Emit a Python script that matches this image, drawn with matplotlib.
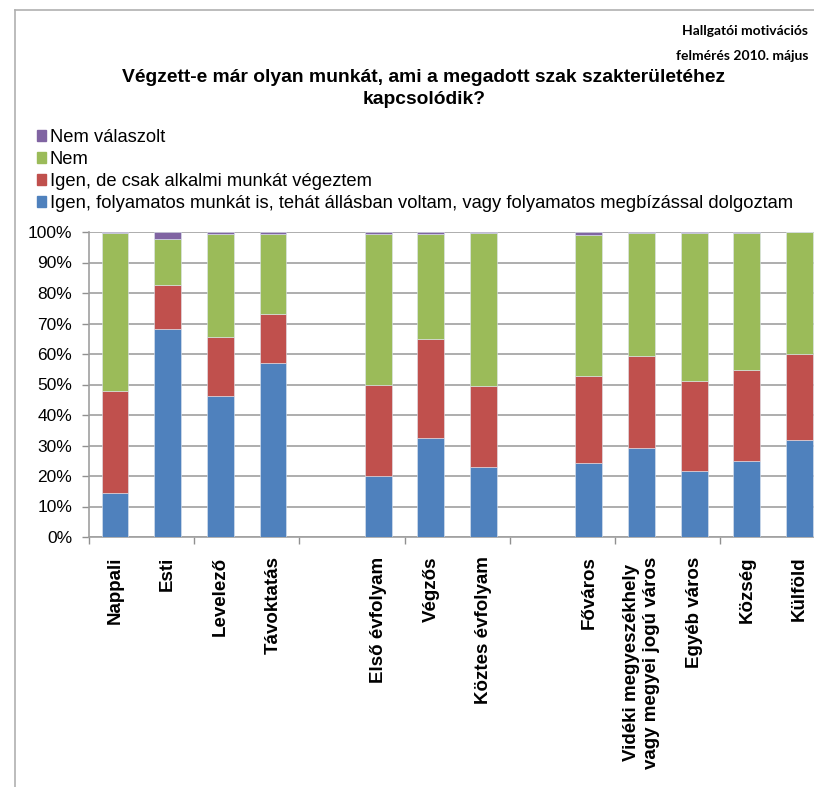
import matplotlib.pyplot as plt
from matplotlib.patches import Patch
from matplotlib.lines import Line2D
from matplotlib import rcParams

rcParams['font.family'] = ['Liberation Sans', 'DejaVu Sans']

# categories (with gaps between the three groups)
categories = ['Nappali', 'Esti', 'Levelező', 'Távoktatás',
              'Első évfolyam', 'Végzős', 'Köztes évfolyam',
              'Főváros', 'Vidéki megyeszékhely\nvagy megyei jogú város', 'Egyéb város', 'Község', 'Külföld']
positions = [0, 1, 2, 3, 5, 6, 7, 9, 10, 11, 12, 13]

# percentages
igen_folyamatos = [14.3, 68.3, 46.2, 57.0, 20.0, 32.6, 23.0, 24.3, 29.2, 21.7, 24.8, 31.8]
igen_alkalmi = [33.5, 14.4, 19.4, 16.0, 30.0, 32.3, 26.6, 28.4, 30.0, 29.6, 29.9, 28.2]
nem = [52.0, 14.9, 33.6, 26.2, 49.3, 34.4, 50.2, 46.2, 40.6, 48.5, 45.1, 40.0]
nem_valaszolt = [0.2, 2.4, 0.8, 0.8, 0.7, 0.7, 0.2, 1.1, 0.2, 0.2, 0.2, 0.0]

series = [
    ('Igen, folyamatos munkát is, tehát állásban voltam, vagy folyamatos megbízással dolgoztam', igen_folyamatos, '#4F81BD'),
    ('Igen, de csak alkalmi munkát végeztem', igen_alkalmi, '#C0504D'),
    ('Nem', nem, '#9BBB59'),
    ('Nem válaszolt', nem_valaszolt, '#8064A2'),
]

W, H = 814, 787
fig = plt.figure(figsize=(W / 100, H / 100), dpi=100)
ax = fig.add_axes([88.7 / W, (H - 537) / H, (825.8 - 88.7) / W, (537 - 232) / H])

bottom = [0.0] * len(positions)
for label, vals, color in series:
    ax.bar(positions, vals, width=0.51, bottom=bottom, color=color, label=label,
           edgecolor='#dfe6f0', linewidth=0.4, zorder=3)
    bottom = [b + v for b, v in zip(bottom, vals)]

ax.set_xlim(-0.5, 13.5)
ax.set_ylim(0, 100)
ax.set_yticks(range(0, 101, 10))
ax.set_yticklabels([f'{v}%' for v in range(0, 101, 10)], fontsize=12.5)
ax.yaxis.grid(True, color='#a0a0a0', linewidth=1.2, zorder=0)
ax.set_axisbelow(True)

ax.set_xticks(positions)
ax.set_xticklabels(categories, rotation=90, fontsize=13.5, fontweight='bold',
                   ha='center', va='top', multialignment='center')
ax.set_xticks([-0.5, 1.5, 3.5, 5.5, 7.5, 9.5, 11.5, 13.5], minor=True)
ax.tick_params(axis='x', which='major', length=0, pad=14)
ax.tick_params(axis='x', which='minor', length=5, color='#909090', width=1)
ax.tick_params(axis='y', length=5, color='#909090', width=1, pad=7)

for side in ['top', 'right']:
    ax.spines[side].set_visible(False)
for side in ['left', 'bottom']:
    ax.spines[side].set_color('#a0a0a0')
    ax.spines[side].set_linewidth(1.2)

# legend (reverse order as in the original)
handles = [Patch(color=c, label=l) for l, v, c in series][::-1]
fig.legend(handles=handles, loc='upper left', bbox_to_anchor=(37 / W, 1 - 129 / H),
           frameon=False, fontsize=13.2, handlelength=0.5, handleheight=0.5,
           handletextpad=0.2, labelspacing=0.27, borderaxespad=0, borderpad=0)

fig.text(424 / W, 1 - 78 / H, 'Végzett-e már olyan munkát, ami a megadott szak szakterületéhez',
         ha='center', va='center', fontsize=13.9, fontweight='bold')
fig.text(424 / W, 1 - 100 / H, 'kapcsolódik?', ha='center', va='center', fontsize=13.9, fontweight='bold')
fig.text(808 / W, 1 - 31 / H, 'Hallgatói motivációs', ha='right', va='center', fontsize=10,
         fontweight='bold', family=['Lato', 'DejaVu Sans'])
fig.text(808 / W, 1 - 56 / H, 'felmérés 2010. május', ha='right', va='center', fontsize=10,
         fontweight='bold', family=['Lato', 'DejaVu Sans'])

# chart frame
fig.add_artist(Line2D([15 / W, 15 / W], [0, 1 - 10 / H], color='#b0b0b0', linewidth=1.2))
fig.add_artist(Line2D([15 / W, 1], [1 - 10 / H, 1 - 10 / H], color='#b0b0b0', linewidth=1.2))

fig.savefig('out.png', dpi=100)
